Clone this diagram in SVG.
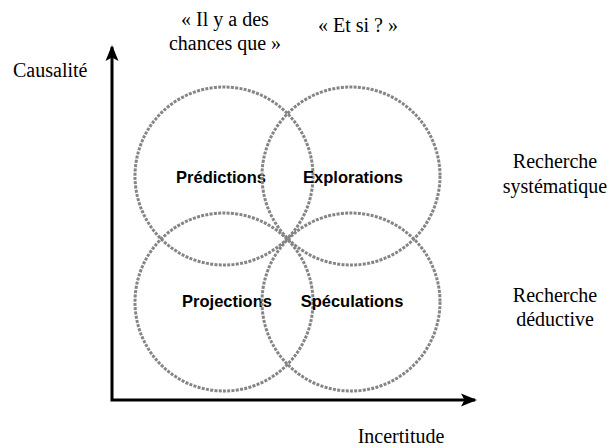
<svg xmlns="http://www.w3.org/2000/svg" width="612" height="448" viewBox="0 0 612 448">
  <style>
    .serif { font-family: "Liberation Serif", "Times New Roman", serif; font-size: 20px; fill: #000; }
    .lbl { font-family: "Liberation Sans", Arial, sans-serif; font-weight: bold; font-size: 16.5px; fill: #000; text-anchor: middle; }
    .ring { fill: none; stroke: #858585; stroke-width: 3; stroke-dasharray: 3 1.3; }
    .axis { fill: none; stroke: #000; stroke-width: 3; stroke-linejoin: miter; }
  </style>
  <defs>
    <marker id="arrow" viewBox="0 0 16 14" refX="14" refY="7" markerWidth="16" markerHeight="14" markerUnits="userSpaceOnUse" orient="auto-start-reverse">
      <path d="M0,0.5 L16,7 L0,13.5 L3.5,7 Z" fill="#000"/>
    </marker>
  </defs>
  <rect width="612" height="448" fill="#fff"/>

  <g id="connectors">
    <path class="axis" d="M112,47 V400 H475" marker-start="url(#arrow)" marker-end="url(#arrow)"/>
  </g>

  <g id="node-predictions">
    <circle class="ring" cx="224" cy="176" r="89"/>
    <text class="lbl" x="221" y="183">Prédictions</text>
  </g>
  <g id="node-explorations">
    <circle class="ring" cx="351" cy="176" r="89"/>
    <text class="lbl" x="353" y="183">Explorations</text>
  </g>
  <g id="node-projections">
    <circle class="ring" cx="224" cy="302" r="89"/>
    <text class="lbl" x="227" y="307">Projections</text>
  </g>
  <g id="node-speculations">
    <circle class="ring" cx="351" cy="302" r="89"/>
    <text class="lbl" x="352" y="307">Spéculations</text>
  </g>

  <g id="labels">
    <text class="serif" x="13" y="77">Causalité</text>
    <text class="serif" x="401" y="443" text-anchor="middle">Incertitude</text>
    <text class="serif" text-anchor="middle"><tspan x="225" y="26">« Il y a des</tspan><tspan x="225" y="50">chances que »</tspan></text>
    <text class="serif" x="358" y="32" text-anchor="middle">« Et si ? »</text>
    <text class="serif" text-anchor="middle"><tspan x="555" y="168">Recherche</tspan><tspan x="555" y="193">systématique</tspan></text>
    <text class="serif" text-anchor="middle"><tspan x="555" y="302">Recherche</tspan><tspan x="555" y="326">déductive</tspan></text>
  </g>
</svg>
